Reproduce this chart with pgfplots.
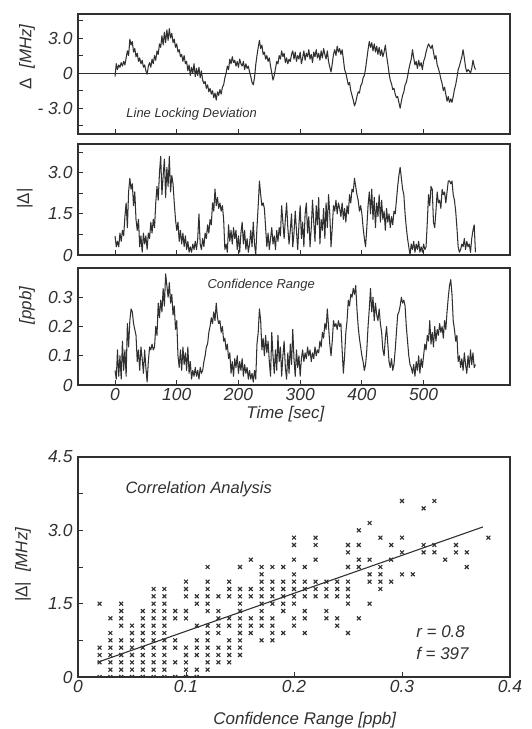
\documentclass[border=0pt]{standalone}
\usepackage{fontspec}
\setmainfont{Liberation Sans}
\usepackage{pgfplots}
\pgfplotsset{compat=1.18}
\definecolor{ink}{HTML}{303030}
\pgfplotsset{
  panel/.style={
    scale only axis, width=432bp,
    axis line style={line width=2pt, ink},
    every tick/.style={line width=0.9pt, ink},
    tick align=inside, major tick length=5bp, minor tick length=5bp,
    tick pos=left,
    ticklabel style={font=\fontsize{17.5}{17.5}\selectfont\itshape, text=ink},
    yticklabel style={xshift=-2bp},
    label style={font=\fontsize{17}{17}\selectfont\itshape, text=ink},
    ylabel style={rotate=0, anchor=center},
  },
  tline/.style={ink, line width=1.05pt, no markers, line join=round},
}
\begin{document}
\begin{tikzpicture}
\useasboundingbox (0,0) rectangle (532bp,-729bp);
% ---------------- panel 1 ----------------
\begin{axis}[panel, at={(78bp,-14bp)}, anchor=north west, height=120bp,
  xmin=-60, xmax=640, ymin=-5.2, ymax=5.05,
  xtick={0,100,...,500}, xticklabels={},
  ytick={-3,0,3}, yticklabels={- 3.0,0,3.0},
  minor ytick={-4.5,-1.5,1.5,4.5},
  ylabel={\upshape Δ\hspace{10bp}\itshape[MHz]},
  ylabel style={at={(axis description cs:-0.118,0.64)}},
]
\addplot[ink, line width=1pt] coordinates {(-60,0) (640,0)};
\addplot[tline] table {
0 -0.3
2 0.8
4 0.3
6 0.7
8 0.5
10 0.9
12 0.6
14 1.0
16 0.7
18 1.3
20 1.9
22 1.5
24 2.9
26 2.4
28 2.7
30 1.8
32 2.1
34 1.4
36 1.7
38 1.0
40 1.3
42 0.8
44 1.1
46 0.5
48 0.7
50 0.2
52 -0.1
54 0.6
56 0.9
58 0.5
60 1.2
62 0.8
64 1.5
66 1.1
68 1.9
70 1.6
72 2.5
74 2.2
76 3.2
78 2.4
80 3.5
82 2.6
84 3.7
86 2.8
88 3.8
90 3.0
92 3.4
94 2.6
96 2.9
98 2.2
100 2.5
102 1.8
104 2.0
106 1.4
108 1.6
110 1.0
112 1.5
114 0.8
116 1.0
118 0.2
120 0.7
122 -0.2
124 0.5
126 0.0
128 0.8
130 -0.3
132 0.4
134 -0.2
136 0.5
138 -0.4
140 0.2
142 -0.6
144 -0.9
146 -0.7
148 -1.3
150 -1.0
152 -1.6
154 -1.3
156 -1.8
158 -1.5
160 -2.1
162 -1.7
164 -2.3
166 -1.6
168 -1.9
170 -1.4
172 -1.8
174 -1.2
176 -1.0
178 -0.4
180 0.0
182 0.6
184 0.3
186 1.2
188 0.8
190 1.4
192 0.9
194 1.1
196 0.6
198 1.0
200 0.5
202 1.2
204 0.8
206 0.6
208 1.0
210 0.3
212 0.8
214 0.4
216 0.6
218 0.1
220 -0.3
222 -0.8
224 -1.0
226 -0.4
228 0.7
230 1.5
232 2.2
234 2.8
236 2.1
238 2.4
240 1.6
242 1.8
244 1.2
246 1.5
248 1.0
250 1.3
252 0.6
254 0.0
256 -0.6
258 -0.2
260 0.4
262 1.0
264 0.8
266 1.5
268 1.2
270 1.9
272 1.4
274 1.7
276 0.9
278 1.3
280 0.8
282 1.2
284 1.0
286 1.6
288 1.9
290 1.2
292 1.8
294 1.0
296 1.5
298 1.2
300 1.8
302 0.8
304 1.3
306 1.9
308 1.1
310 1.7
312 1.4
314 2.0
316 1.2
318 1.6
320 0.9
322 1.8
324 1.4
326 2.0
328 1.3
330 1.7
332 1.1
334 1.9
336 1.3
338 2.1
340 1.6
342 1.2
344 1.9
346 1.0
348 0.5
350 0.1
352 0.8
354 1.6
356 2.0
358 1.5
360 2.3
362 1.8
364 2.1
366 1.6
368 2.0
370 1.2
372 0.3
374 0.0
376 -0.5
378 -1.0
380 -0.8
382 -1.5
384 -1.9
386 -2.3
388 -2.8
390 -2.5
392 -2.0
394 -1.6
396 -1.7
398 -1.1
400 -0.9
402 -0.4
404 -0.2
406 0.4
408 1.2
410 2.0
412 2.7
414 2.2
416 2.6
418 1.9
420 2.5
422 1.8
424 2.3
426 1.6
428 2.2
430 1.5
432 2.0
434 1.4
436 1.8
438 2.4
440 1.5
442 0.8
444 0.0
446 -0.6
448 -0.9
450 -1.4
452 -1.3
454 -1.8
456 -2.1
458 -2.0
460 -2.5
462 -3.0
464 -2.4
466 -1.9
468 -1.6
470 -1.0
472 -0.8
474 -0.3
476 0.3
478 0.8
480 1.2
482 2.0
484 1.3
486 0.7
488 1.0
490 0.4
492 1.1
494 0.6
496 0.9
498 0.3
500 1.0
502 1.3
504 1.8
506 2.2
508 2.5
510 2.3
512 2.1
514 2.4
516 1.8
518 1.2
520 1.5
522 0.7
524 0.4
526 0.0
528 -0.5
530 -0.9
532 -1.5
534 -1.2
536 -1.8
538 -2.4
540 -2.0
542 -2.5
544 -2.2
546 -2.5
548 -2.0
550 -1.4
552 -1.0
554 -0.4
556 0.3
558 0.6
560 1.0
562 1.4
564 2.0
566 1.3
568 0.5
570 0.1
572 0.3
574 0.2
576 0.0
578 0.4
580 1.1
582 0.6
584 0.3
};
\node[anchor=west, font=\fontsize{13}{13}\selectfont\itshape, text=ink] at (rel axis cs:0.104,0.167) {Line Locking Deviation};
\end{axis}
% ---------------- panel 2 ----------------
\begin{axis}[panel, at={(78bp,-144bp)}, anchor=north west, height=111bp,
  xmin=-60, xmax=640, ymin=0, ymax=4.05,
  xtick={0,100,...,500}, xticklabels={},
  ytick={0,1.5,3}, yticklabels={0,1.5,3.0},
  minor ytick={0.75,2.25,3.75},
  ylabel={\upshape |Δ|},
  ylabel style={at={(axis description cs:-0.123,0.51)}},
]
\addplot[tline] table {
0 0.7
2 0.3
4 0.5
6 0.3
8 0.8
10 0.5
12 0.9
14 0.7
16 1.4
18 1.9
20 1.0
22 2.3
24 2.8
26 2.4
28 2.6
30 1.8
32 2.3
34 1.3
36 0.9
38 1.3
40 0.3
42 0.7
44 0.1
46 0.8
48 0.4
50 0.7
52 0.2
54 0.8
56 0.6
58 1.2
60 0.8
62 1.3
64 1.0
66 1.9
68 2.5
70 2.0
72 3.0
74 3.6
76 2.2
78 2.9
80 3.5
82 2.1
84 3.2
86 2.5
88 3.6
90 2.3
92 2.9
94 2.6
96 1.9
98 1.3
100 0.9
102 1.2
104 0.5
106 0.9
108 0.4
110 0.8
112 0.3
114 0.7
116 0.2
118 0.5
120 0.1
122 0.3
124 0.1
126 0.4
128 0.2
130 0.5
132 0.2
134 0.6
136 1.5
138 0.4
140 0.2
142 0.6
144 0.3
146 0.8
148 0.6
150 1.1
152 0.8
154 1.3
156 1.1
158 1.9
160 1.6
162 2.4
164 1.8
166 2.1
168 1.7
170 1.9
172 1.6
174 1.8
176 1.3
178 0.2
180 0.4
182 0.1
184 1.1
186 0.5
188 0.9
190 0.4
192 1.0
194 0.6
196 0.9
198 0.2
200 0.7
202 0.1
204 0.8
206 1.2
208 0.4
210 0.9
212 0.2
214 0.6
216 0.1
218 0.4
220 0.9
222 0.3
224 1.2
226 0.4
228 0.0
230 1.0
232 1.8
234 2.7
236 2.2
238 1.8
240 1.9
242 1.7
244 1.0
246 0.3
248 0.8
250 0.2
252 0.6
254 1.0
256 0.4
258 0.7
260 0.2
262 0.9
264 0.5
266 1.0
268 0.7
270 1.8
272 1.2
274 0.6
276 1.3
278 1.9
280 1.0
282 0.4
284 0.9
286 1.5
288 0.3
290 0.8
292 1.6
294 0.9
296 0.2
298 1.1
300 1.8
302 0.6
304 1.2
306 0.3
308 1.5
310 1.9
312 0.8
314 1.4
316 0.3
318 1.0
320 2.0
322 1.2
324 0.5
326 1.8
328 1.1
330 2.1
332 0.4
334 1.3
336 0.9
338 1.7
340 0.6
342 1.9
344 1.0
346 2.2
348 1.5
350 0.3
352 1.0
354 1.8
356 1.6
358 2.0
360 1.5
362 1.9
364 1.7
366 1.4
368 1.9
370 1.3
372 1.7
374 1.2
376 1.8
378 1.5
380 2.2
382 1.9
384 2.4
386 2.3
388 2.8
390 2.5
392 2.2
394 2.0
396 1.6
398 1.8
400 1.5
402 1.0
404 0.6
406 0.3
408 1.0
410 1.8
412 2.3
414 1.5
416 2.4
418 1.3
420 2.1
422 1.0
424 1.9
426 1.4
428 2.2
430 1.2
432 2.0
434 1.3
436 1.6
438 0.9
440 1.7
442 1.2
444 1.5
446 1.0
448 1.4
450 1.1
452 1.6
454 1.5
456 2.0
458 2.5
460 2.9
462 3.2
464 2.8
466 2.4
468 2.2
470 1.5
472 1.0
474 0.6
476 0.3
478 0.0
480 0.4
482 0.2
484 0.5
486 0.1
488 0.4
490 0.2
492 0.5
494 0.1
496 0.3
498 0.1
500 0.4
502 0.2
504 0.3
506 1.2
508 2.2
510 1.8
512 2.5
514 2.4
516 1.2
518 1.0
520 1.6
522 2.3
524 1.9
526 2.0
528 1.7
530 2.4
532 2.2
534 2.3
536 1.9
538 2.3
540 2.7
542 2.7
544 2.6
546 2.7
548 2.2
550 2.0
552 1.6
554 1.0
556 0.3
558 0.1
560 0.2
562 0.4
564 0.3
566 0.6
568 0.2
570 0.5
572 0.3
574 0.4
576 0.1
578 0.6
580 0.9
582 1.1
584 0.1
};
\end{axis}
% ---------------- panel 3 ----------------
\begin{axis}[panel, at={(78bp,-268bp)}, anchor=north west, height=117bp,
  xmin=-60, xmax=640, ymin=0, ymax=0.4,
  xtick={0,100,...,500}, xticklabels={0,100,200,300,400,500},
  ytick={0,0.1,0.2,0.3}, yticklabels={0,0.1,0.2,0.3},
  ylabel={[ppb]},
  ylabel style={at={(axis description cs:-0.118,0.68)}},
  xlabel={Time [sec]},
  xlabel style={at={(axis description cs:0.48,-0.245)}, anchor=center},
]
\addplot[tline] table {
0 0.05
2 0.02
4 0.12
6 0.03
8 0.10
10 0.02
12 0.15
14 0.05
16 0.12
18 0.03
20 0.21
22 0.13
24 0.22
26 0.26
28 0.25
30 0.21
32 0.19
34 0.17
36 0.08
38 0.12
40 0.05
42 0.13
44 0.09
46 0.04
48 0.12
50 0.06
52 0.01
54 0.08
56 0.13
58 0.12
60 0.14
62 0.12
64 0.13
66 0.20
68 0.17
70 0.28
72 0.23
74 0.29
76 0.25
78 0.33
80 0.27
82 0.38
84 0.34
86 0.30
88 0.35
90 0.28
92 0.31
94 0.24
96 0.27
98 0.19
100 0.22
102 0.10
104 0.06
106 0.12
108 0.05
110 0.13
112 0.07
114 0.11
116 0.05
118 0.13
120 0.04
122 0.08
124 0.02
126 0.05
128 0.03
130 0.06
132 0.03
134 0.05
136 0.02
138 0.06
140 0.04
142 0.05
144 0.08
146 0.10
148 0.13
150 0.14
152 0.18
154 0.20
156 0.23
158 0.21
160 0.25
162 0.22
164 0.28
166 0.23
168 0.21
170 0.22
172 0.18
174 0.20
176 0.15
178 0.16
180 0.12
182 0.14
184 0.09
186 0.11
188 0.04
190 0.08
192 0.03
194 0.09
196 0.06
198 0.10
200 0.04
202 0.08
204 0.05
206 0.09
208 0.03
210 0.07
212 0.04
214 0.06
216 0.02
218 0.05
220 0.02
222 0.04
224 0.01
226 0.05
228 0.02
230 0.14
232 0.18
234 0.26
236 0.22
238 0.12
240 0.16
242 0.10
244 0.17
246 0.11
248 0.15
250 0.08
252 0.03
254 0.18
256 0.10
258 0.04
260 0.12
262 0.05
264 0.17
266 0.08
268 0.13
270 0.03
272 0.10
274 0.15
276 0.06
278 0.02
280 0.11
282 0.04
284 0.14
286 0.07
288 0.19
290 0.09
292 0.03
294 0.12
296 0.06
298 0.10
300 0.03
302 0.09
304 0.12
306 0.08
308 0.11
310 0.09
312 0.13
314 0.10
316 0.12
318 0.08
320 0.11
322 0.09
324 0.13
326 0.10
328 0.12
330 0.11
332 0.15
334 0.13
336 0.18
338 0.16
340 0.21
342 0.19
344 0.26
346 0.20
348 0.14
350 0.10
352 0.15
354 0.22
356 0.20
358 0.21
360 0.19
362 0.22
364 0.20
366 0.21
368 0.12
370 0.04
372 0.10
374 0.18
376 0.22
378 0.29
380 0.27
382 0.31
384 0.30
386 0.33
388 0.31
390 0.34
392 0.26
394 0.20
396 0.16
398 0.13
400 0.10
402 0.08
404 0.05
406 0.07
408 0.12
410 0.20
412 0.26
414 0.33
416 0.25
418 0.30
420 0.22
422 0.28
424 0.24
426 0.22
428 0.26
430 0.21
432 0.18
434 0.12
436 0.10
438 0.16
440 0.20
442 0.14
444 0.08
446 0.06
448 0.09
450 0.05
452 0.07
454 0.12
456 0.18
458 0.24
460 0.25
462 0.27
464 0.30
466 0.28
468 0.29
470 0.27
472 0.20
474 0.15
476 0.10
478 0.07
480 0.06
482 0.04
484 0.07
486 0.03
488 0.08
490 0.05
492 0.10
494 0.04
496 0.09
498 0.06
500 0.10
502 0.14
504 0.12
506 0.17
508 0.15
510 0.22
512 0.14
514 0.18
516 0.13
518 0.20
520 0.15
522 0.19
524 0.17
526 0.21
528 0.18
530 0.20
532 0.16
534 0.22
536 0.19
538 0.25
540 0.30
542 0.34
544 0.36
546 0.31
548 0.22
550 0.19
552 0.15
554 0.17
556 0.08
558 0.10
560 0.06
562 0.09
564 0.05
566 0.11
568 0.07
570 0.04
572 0.10
574 0.06
576 0.12
578 0.07
580 0.11
582 0.06
584 0.07
};
\node[font=\fontsize{13}{13}\selectfont\itshape, text=ink] at (rel axis cs:0.424,0.855) {Confidence Range};
\end{axis}
% ---------------- panel 4 ----------------
\begin{axis}[panel, at={(78bp,-457bp)}, anchor=north west, height=220bp,
  xmin=0, xmax=0.4, ymin=0, ymax=4.5,
  xtick={0,0.1,0.2,0.3,0.4}, xticklabels={0,0.1,0.2,0.3,0.4},
  ytick={0,1.5,3,4.5}, yticklabels={0,1.5,3.0,4.5},
  minor ytick={0.75,2.25,3.75},
  ylabel={\upshape |Δ|\hspace{10bp}\itshape[MHz]},
  ylabel style={at={(axis description cs:-0.127,0.51)}},
  xlabel={Confidence Range [ppb]},
  xlabel style={at={(axis description cs:0.525,-0.195)}, anchor=center},
  clip marker paths=true,
]
\addplot[only marks, mark=x, mark size=2.7pt, ink, mark options={line width=1.15pt}] coordinates {
(0.02,0) (0.03,0) (0.04,0) (0.05,0) (0.06,0) (0.07,0) (0.08,0) (0.09,0) (0.10,0) (0.11,0)
(0.03,0.15) (0.04,0.15) (0.05,0.15) (0.06,0.15) (0.07,0.15) (0.08,0.15) (0.10,0.15) (0.11,0.15) (0.12,0.15)
(0.02,0.3) (0.03,0.3) (0.04,0.3) (0.05,0.3) (0.06,0.3) (0.07,0.3) (0.08,0.3) (0.09,0.3) (0.10,0.3) (0.12,0.3) (0.13,0.3) (0.14,0.3)
(0.02,0.45) (0.03,0.45) (0.04,0.45) (0.05,0.45) (0.06,0.45) (0.07,0.45) (0.08,0.45) (0.10,0.45) (0.11,0.45) (0.12,0.45) (0.13,0.45) (0.14,0.45) (0.15,0.45)
(0.02,0.6) (0.03,0.6) (0.04,0.6) (0.05,0.6) (0.06,0.6) (0.07,0.6) (0.08,0.6) (0.09,0.6) (0.10,0.6) (0.11,0.6) (0.12,0.6) (0.13,0.6) (0.14,0.6) (0.15,0.6)
(0.03,0.75) (0.04,0.75) (0.05,0.75) (0.06,0.75) (0.07,0.75) (0.08,0.75) (0.09,0.75) (0.11,0.75) (0.12,0.75) (0.14,0.75) (0.15,0.75) (0.17,0.75) (0.18,0.75)
(0.03,0.9) (0.05,0.9) (0.06,0.9) (0.07,0.9) (0.08,0.9) (0.12,0.9) (0.13,0.9) (0.15,0.9) (0.16,0.9) (0.18,0.9) (0.19,0.9) (0.21,0.9) (0.25,0.9)
(0.04,1.05) (0.05,1.05) (0.06,1.05) (0.07,1.05) (0.08,1.05) (0.11,1.05) (0.12,1.05) (0.13,1.05) (0.14,1.05) (0.15,1.05) (0.16,1.05) (0.17,1.05) (0.18,1.05) (0.20,1.05) (0.24,1.05)
(0.03,1.2) (0.04,1.2) (0.06,1.2) (0.07,1.2) (0.08,1.2) (0.09,1.2) (0.10,1.2) (0.13,1.2) (0.14,1.2) (0.15,1.2) (0.16,1.2) (0.17,1.2) (0.18,1.2) (0.20,1.2) (0.21,1.2) (0.23,1.2) (0.24,1.2) (0.26,1.2)
(0.04,1.35) (0.06,1.35) (0.07,1.35) (0.08,1.35) (0.09,1.35) (0.10,1.35) (0.12,1.35) (0.13,1.35) (0.15,1.35) (0.17,1.35) (0.19,1.35) (0.21,1.35) (0.23,1.35)
(0.02,1.5) (0.04,1.5) (0.07,1.5) (0.08,1.5) (0.11,1.5) (0.12,1.5) (0.15,1.5) (0.17,1.5) (0.18,1.5) (0.19,1.5) (0.20,1.5) (0.25,1.5) (0.27,1.5)
(0.07,1.65) (0.08,1.65) (0.10,1.65) (0.11,1.65) (0.12,1.65) (0.13,1.65) (0.14,1.65) (0.15,1.65) (0.16,1.65) (0.17,1.65) (0.18,1.65) (0.19,1.65) (0.20,1.65) (0.21,1.65) (0.22,1.65) (0.23,1.65) (0.24,1.65) (0.25,1.65)
(0.07,1.8) (0.08,1.8) (0.10,1.8) (0.12,1.8) (0.14,1.8) (0.15,1.8) (0.16,1.8) (0.17,1.8) (0.18,1.8) (0.19,1.8) (0.20,1.8) (0.21,1.8) (0.22,1.8) (0.23,1.8) (0.24,1.8) (0.25,1.8) (0.28,1.8)
(0.10,1.95) (0.12,1.95) (0.14,1.95) (0.17,1.95) (0.18,1.95) (0.19,1.95) (0.20,1.95) (0.21,1.95) (0.22,1.95) (0.23,1.95) (0.24,1.95) (0.25,1.95) (0.27,1.95) (0.28,1.95) (0.29,1.95)
(0.17,2.1) (0.20,2.1) (0.27,2.1) (0.28,2.1) (0.30,2.1) (0.31,2.1)
(0.12,2.25) (0.15,2.25) (0.17,2.25) (0.18,2.25) (0.19,2.25) (0.21,2.25) (0.25,2.25) (0.26,2.25) (0.28,2.25) (0.36,2.25)
(0.16,2.4) (0.20,2.4) (0.22,2.4) (0.26,2.4) (0.27,2.4) (0.29,2.4) (0.34,2.4)
(0.25,2.55) (0.30,2.55) (0.32,2.55) (0.33,2.55) (0.35,2.55) (0.36,2.55)
(0.20,2.7) (0.22,2.7) (0.25,2.7) (0.26,2.7) (0.29,2.7) (0.32,2.7) (0.33,2.7) (0.35,2.7)
(0.20,2.85) (0.22,2.85) (0.28,2.85) (0.30,2.85) (0.38,2.85)
(0.26,3.0) (0.27,3.15) (0.32,3.45) (0.30,3.6) (0.33,3.6)
};
\addplot[ink, line width=1.1pt] coordinates {(0.018,0.30) (0.375,3.07)};
\node[anchor=west, font=\fontsize{16.5}{16.5}\selectfont\itshape, text=ink] at (rel axis cs:0.102,0.855) {Correlation Analysis};
\node[anchor=west, font=\fontsize{17}{17}\selectfont\itshape, text=ink] at (rel axis cs:0.775,0.205) {r = 0.8};
\node[anchor=west, font=\fontsize{17}{17}\selectfont\itshape, text=ink] at (rel axis cs:0.775,0.109) {f = 397};
\end{axis}
\end{tikzpicture}
\end{document}
